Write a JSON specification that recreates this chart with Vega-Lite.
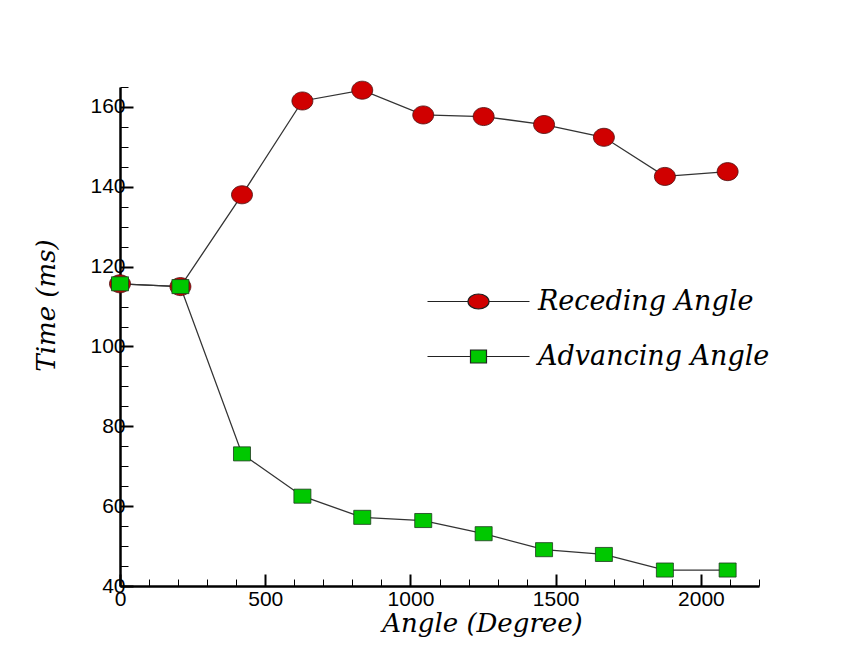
{
  "$schema": "https://vega.github.io/schema/vega-lite/v6.json",
  "width": 639,
  "height": 499,
  "autosize": {"type": "none"},
  "padding": {"left": 120, "top": 87, "right": 89, "bottom": 64},
  "background": "white",
  "config": {
    "view": {"stroke": null},
    "axis": {
      "grid": false,
      "labelFont": "Liberation Sans",
      "labelFontSize": 21,
      "labelColor": "black",
      "titleFont": "DejaVu Serif",
      "titleFontStyle": "italic",
      "titleFontWeight": "normal",
      "titleFontSize": 26,
      "titleColor": "black",
      "domainColor": "black",
      "tickColor": "black"
    }
  },
  "data": {
    "values": [
      {"angle": 0, "time": 115.7, "series": "Receding Angle"},
      {"angle": 208, "time": 115.0, "series": "Receding Angle"},
      {"angle": 420, "time": 138.0, "series": "Receding Angle"},
      {"angle": 628, "time": 161.5, "series": "Receding Angle"},
      {"angle": 834, "time": 164.2, "series": "Receding Angle"},
      {"angle": 1044, "time": 158.0, "series": "Receding Angle"},
      {"angle": 1252, "time": 157.6, "series": "Receding Angle"},
      {"angle": 1460, "time": 155.6, "series": "Receding Angle"},
      {"angle": 1666, "time": 152.4, "series": "Receding Angle"},
      {"angle": 1876, "time": 142.6, "series": "Receding Angle"},
      {"angle": 2092, "time": 143.8, "series": "Receding Angle"},
      {"angle": 0, "time": 115.7, "series": "Advancing Angle"},
      {"angle": 208, "time": 115.0, "series": "Advancing Angle"},
      {"angle": 420, "time": 73.1, "series": "Advancing Angle"},
      {"angle": 628, "time": 62.5, "series": "Advancing Angle"},
      {"angle": 834, "time": 57.2, "series": "Advancing Angle"},
      {"angle": 1044, "time": 56.4, "series": "Advancing Angle"},
      {"angle": 1252, "time": 53.1, "series": "Advancing Angle"},
      {"angle": 1460, "time": 49.1, "series": "Advancing Angle"},
      {"angle": 1666, "time": 47.9, "series": "Advancing Angle"},
      {"angle": 1876, "time": 44.0, "series": "Advancing Angle"},
      {"angle": 2092, "time": 44.0, "series": "Advancing Angle"}
    ]
  },
  "layer": [
    {
      "mark": {"type": "line", "color": "#333333", "strokeWidth": 1.3},
      "encoding": {
        "x": {
          "field": "angle", "type": "quantitative",
          "scale": {"domain": [0, 2200], "nice": false, "zero": false},
          "axis": {
            "orient": "bottom",
            "values": [0, 500, 1000, 1500, 2000],
            "format": "d",
            "tickSize": -12, "tickWidth": 2, "domainWidth": 2.5,
            "labelPadding": 14, "labelFlush": false,
            "title": "Angle (Degree)",
            "titleX": 362, "titleY": 45,
            "titleAlign": "center", "titleBaseline": "alphabetic"
          }
        },
        "y": {
          "field": "time", "type": "quantitative",
          "scale": {"domain": [40, 165], "nice": false, "zero": false},
          "axis": {
            "orient": "left",
            "values": [40, 60, 80, 100, 120, 140, 160],
            "tickSize": -13, "tickWidth": 2, "domainWidth": 2.5,
            "labelPadding": 8,
            "title": "Time (ms)",
            "titleX": -66, "titleY": 218, "titleAngle": 270,
            "titleAlign": "center", "titleBaseline": "alphabetic"
          }
        },
        "detail": {"field": "series"}
      }
    },
    {
      "transform": [{"filter": "datum.series === 'Receding Angle'"}],
      "mark": {"type": "point", "filled": true, "fill": "#d00000", "stroke": "#4a1010", "strokeWidth": 0.8, "size": 441, "opacity": 1,
               "shape": "M -1 0 A 1 0.86 0 1 0 1 0 A 1 0.86 0 1 0 -1 0 Z"},
      "encoding": {
        "x": {
          "field": "angle", "type": "quantitative",
          "axis": {
            "orient": "bottom",
            "values": [0, 100, 200, 300, 400, 500, 600, 700, 800, 900, 1000, 1100, 1200, 1300, 1400, 1500, 1600, 1700, 1800, 1900, 2000, 2100, 2200],
            "tickSize": -7, "tickWidth": 1, "domain": false, "labels": false, "title": null
          }
        },
        "y": {
          "field": "time", "type": "quantitative",
          "axis": {
            "orient": "left",
            "values": [40, 45, 50, 55, 60, 65, 70, 75, 80, 85, 90, 95, 100, 105, 110, 115, 120, 125, 130, 135, 140, 145, 150, 155, 160, 165],
            "tickSize": -8, "tickWidth": 1, "domain": false, "labels": false, "title": null
          }
        }
      }
    },
    {
      "transform": [{"filter": "datum.series === 'Advancing Angle'"}],
      "mark": {"type": "point", "filled": true, "fill": "#00c800", "stroke": "#1e3a1e", "strokeWidth": 0.8, "size": 441, "opacity": 1,
               "shape": "M -0.81 -0.67 L 0.81 -0.67 L 0.81 0.67 L -0.81 0.67 Z"},
      "encoding": {
        "x": {"field": "angle", "type": "quantitative", "axis": null},
        "y": {"field": "time", "type": "quantitative", "axis": null}
      }
    },
    {
      "transform": [{"filter": "datum.angle < 0"}],
      "mark": {"type": "point", "filled": false, "stroke": "#222222", "strokeWidth": 1.2, "opacity": 1},
      "encoding": {
        "x": {"field": "angle", "type": "quantitative", "axis": null},
        "y": {"field": "time", "type": "quantitative", "axis": null},
        "fill": {
          "field": "series", "type": "nominal",
          "scale": {"domain": ["Receding Angle", "Advancing Angle"], "range": ["#d00000", "#00c800"]},
          "legend": {
            "orient": "none", "legendX": 345, "legendY": 201, "title": null, "padding": 0,
            "labelFont": "DejaVu Serif", "labelFontStyle": "italic", "labelFontSize": 27, "labelColor": "black",
            "labelOffset": 46, "rowPadding": 27, "symbolSize": 400, "labelLimit": 0,
            "symbolStrokeWidth": 1.2, "symbolOpacity": 1,
            "encode": {"symbols": {"update": {"stroke": {"value": "#222222"}, "strokeWidth": {"value": 1.2}}}}
          }
        },
        "shape": {
          "field": "series", "type": "nominal",
          "scale": {"domain": ["Receding Angle", "Advancing Angle"], "range": [
            "M -5.1 0 L -1.05 0 M 1.05 0 L 5.1 0 M -1.05 0 A 1.05 0.75 0 1 0 1.05 0 A 1.05 0.75 0 1 0 -1.05 0 Z",
            "M -5.1 0 L -0.8 0 M 0.8 0 L 5.1 0 M -0.8 -0.65 L 0.8 -0.65 L 0.8 0.65 L -0.8 0.65 Z"
          ]},
          "legend": {
            "orient": "none", "legendX": 345, "legendY": 201, "title": null, "padding": 0,
            "labelFont": "DejaVu Serif", "labelFontStyle": "italic", "labelFontSize": 27, "labelColor": "black",
            "labelOffset": 46, "rowPadding": 27, "symbolSize": 400, "labelLimit": 0,
            "symbolStrokeWidth": 1.2, "symbolOpacity": 1,
            "encode": {"symbols": {"update": {"stroke": {"value": "#222222"}, "strokeWidth": {"value": 1.2}}}}
          }
        }
      }
    }
  ],
  "resolve": {"axis": {"x": "independent", "y": "independent"}}
}
